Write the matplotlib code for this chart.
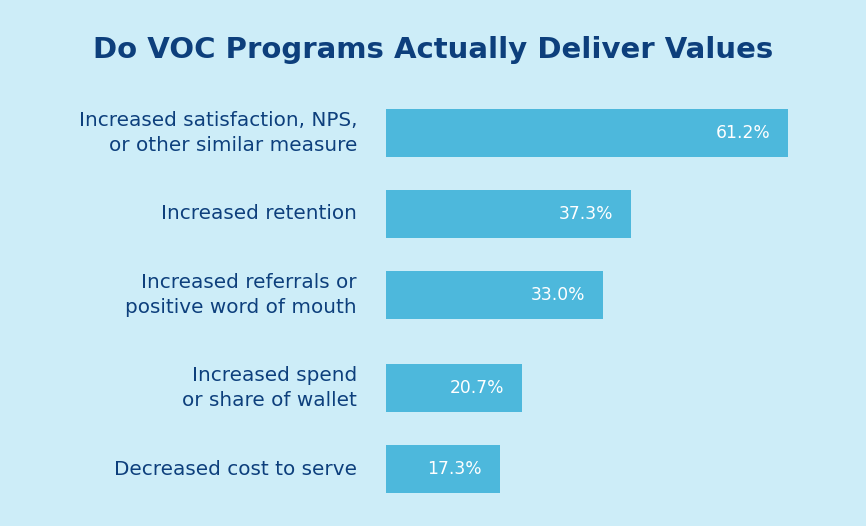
import matplotlib.pyplot as plt

categories = ['Increased satisfaction, NPS,\nor other similar measure',
              'Increased retention',
              'Increased referrals or\npositive word of mouth',
              'Increased spend\nor share of wallet',
              'Decreased cost to serve']
values = [61.2, 37.3, 33.0, 20.7, 17.3]

bg = '#cdedf8'
bar_color = '#4db8dc'
navy = '#0d3f7c'

plt.rcParams['font.family'] = ['DejaVu Sans']

W, H = 866, 526
fig = plt.figure(figsize=(W / 100, H / 100), dpi=100)
fig.patch.set_facecolor(bg)

# axes from pixel 386 (left) .. 846, y 100 .. 502
ax = fig.add_axes([386 / W, 1 - 502 / H, 460 / W, 402 / H])
ax.set_facecolor(bg)

ypos = [0, 1, 2, 3.15, 4.15]
ax.barh(ypos, values, height=0.593, color=bar_color)
ax.set_xlim(0, 460 / (402 / 61.2))
ax.set_ylim(4.556, -0.407)

for y, v, lab in zip(ypos, values, categories):
    ax.text(v - 2.7, y, f'{v:.1f}%', color='white', ha='right', va='center',
            fontsize=12.3)
    ax.text(-4.4, y, lab, color=navy, ha='right', va='center',
            fontsize=14.4, multialignment='right', linespacing=1.35)

ax.axis('off')

fig.text(433 / W, 1 - 50 / H, 'Do VOC Programs Actually Deliver Values',
         ha='center', va='center', color=navy, fontsize=21, fontweight='bold')

fig.savefig('out.png', dpi=100, facecolor=bg)
